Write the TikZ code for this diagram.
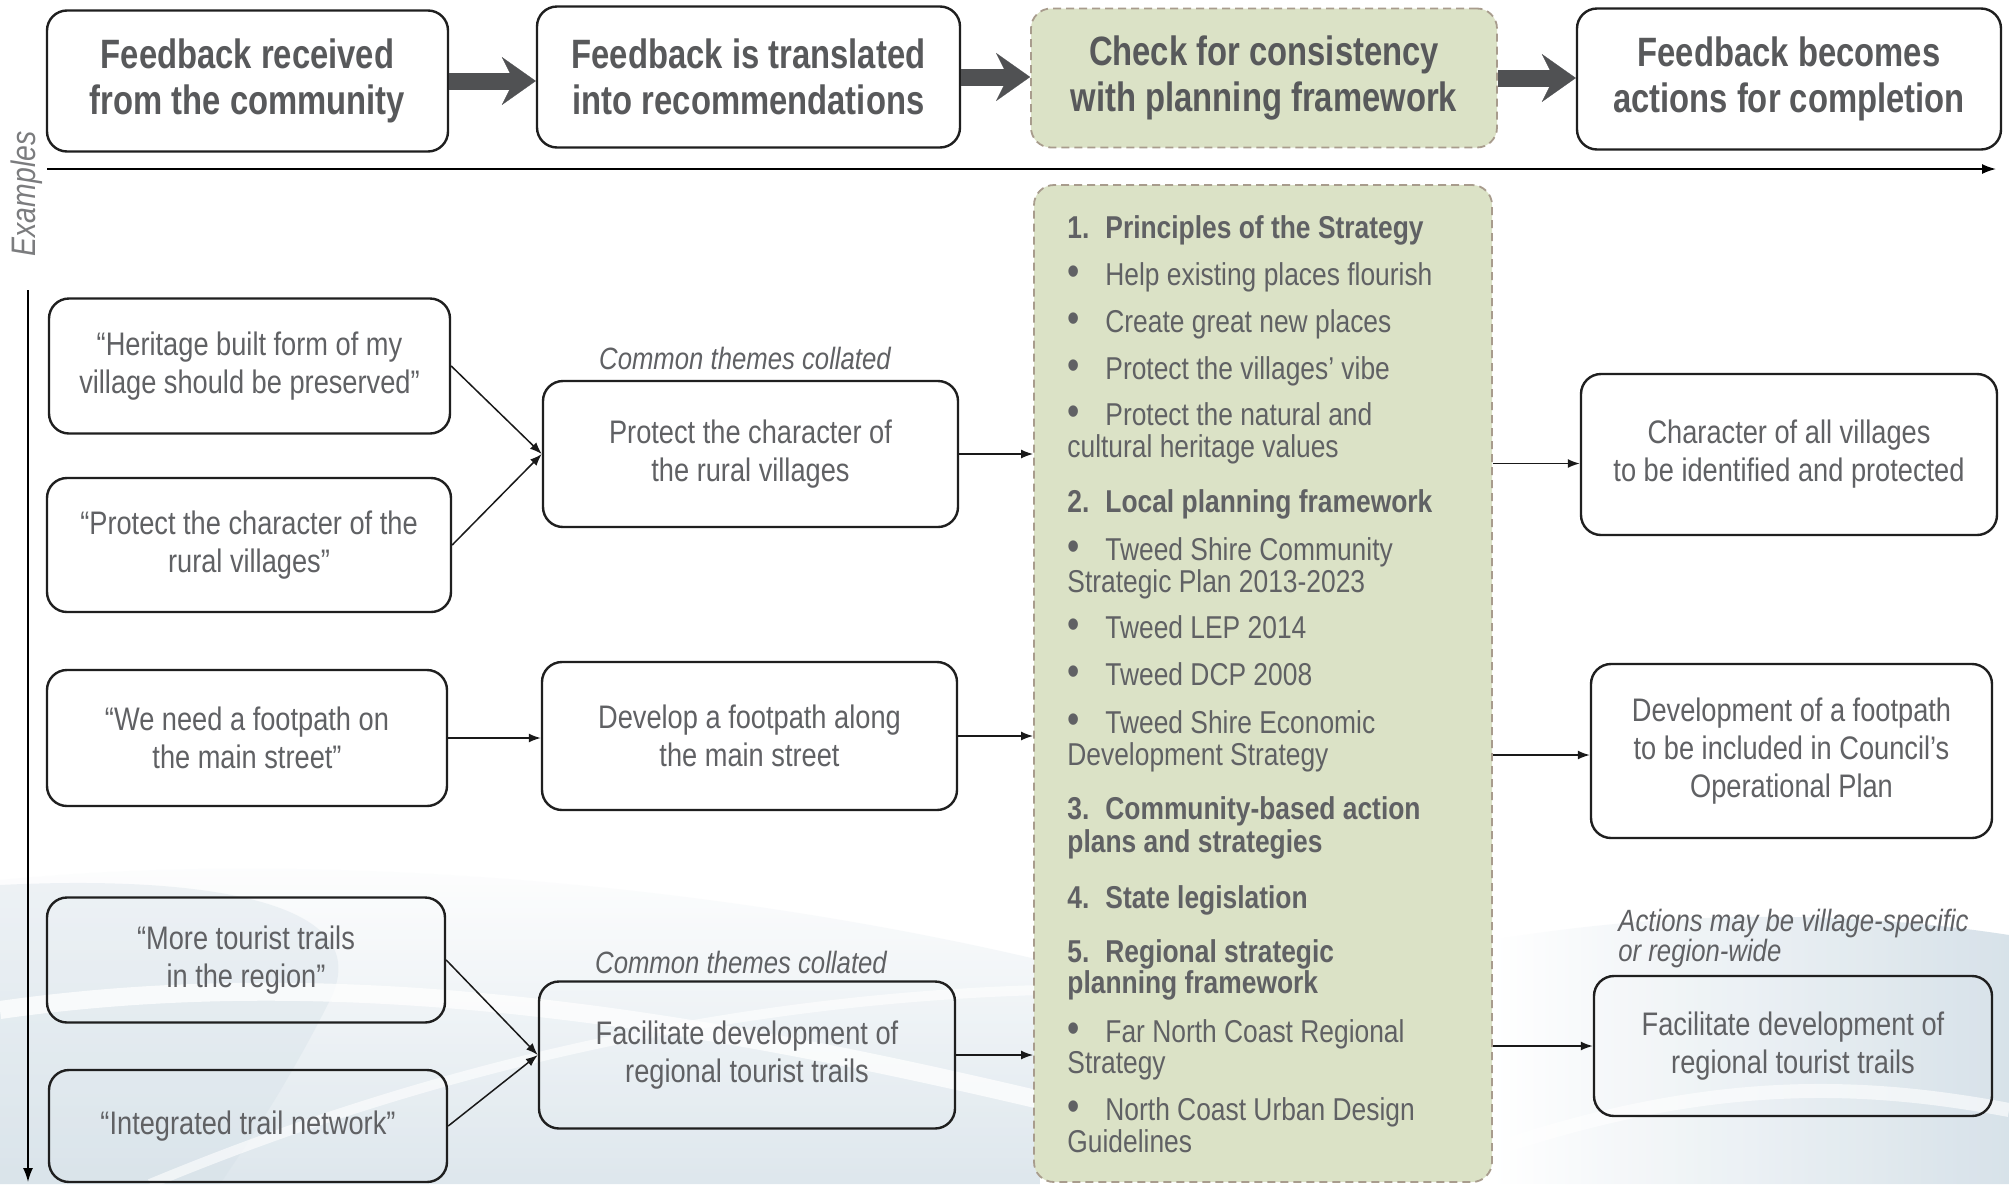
\documentclass[tikz,border=0pt]{standalone}
\usepackage{fontspec}
\setmainfont{Liberation Sans}[FakeStretch=0.835]
\newfontfamily\condttl{Liberation Sans}[FakeStretch=0.8]
\usetikzlibrary{arrows.meta}
\definecolor{txtc}{HTML}{606164}
\definecolor{ttlc}{HTML}{58595B}
\definecolor{gfill}{HTML}{DBE2C6}
\definecolor{gdash}{HTML}{A89C8D}
\definecolor{darr}{HTML}{505153}
\definecolor{bgblue}{HTML}{D3DFE7}
\definecolor{exc}{HTML}{7B7C7E}
\begin{document}
\begin{tikzpicture}[x=0.5pt,y=-0.5pt,
 box/.style={draw=black!88, line width=1.2pt, rounded corners=10pt, inner sep=0pt, align=center, text=txtc, font=\fontsize{16.3}{19}\selectfont},
 ttlbox/.style={box, text=ttlc, font=\condttl\fontsize{20.5}{23}\selectfont\bfseries},
 gbox/.style={draw=gdash, fill=gfill, dash pattern=on 4pt off 2.5pt, line width=0.9pt, rounded corners=10pt, inner sep=0pt, align=center},
 gt/.style={inner sep=0pt, text=txtc, font=\fontsize{15.8}{16}\selectfont, anchor=base west},
 gtb/.style={gt, font=\fontsize{15.8}{16}\selectfont\bfseries},
 gbul/.style={gt, font=\fontsize{21}{16}\selectfont},
 lbl/.style={inner sep=0pt, text=txtc, font=\fontsize{15.4}{15}\selectfont\itshape},
 bigarrow/.style={draw=darr, line width=8.5pt, -{Stealth[length=17pt,width=24pt,inset=6pt,line width=0.1pt]}},
 conn/.style={draw=black!90, line width=0.75pt, -{Latex[length=6pt,width=4.5pt]}},
 axis/.style={draw=black, line width=0.8pt, -{Latex[length=7pt,width=5pt]}}
]
\useasboundingbox (0,0) rectangle (2009,1184);
\fill[white] (0,0) rectangle (2009,1184);

% decorative background swooshes
\shade[top color=white, bottom color=bgblue, opacity=0.75] (0,880) .. controls (300,850) and (700,880) .. (1040,960) -- (1040,1184) -- (0,1184) -- cycle;
\fill[bgblue, opacity=0.35] (0,885) .. controls (200,875) and (380,900) .. (330,1000) .. controls (290,1080) and (250,1140) .. (220,1184) -- (0,1184) -- cycle;
\draw[white, line width=9pt, opacity=0.75] (0,1010) .. controls (350,960) and (700,1020) .. (1040,1100);
\draw[white, line width=5pt, opacity=0.6] (150,1184) .. controls (400,1080) and (700,1000) .. (1040,990);
\shade[left color=white, right color=bgblue, opacity=0.9] (1492,940) .. controls (1700,905) and (1880,915) .. (2009,935) -- (2009,1184) -- (1492,1184) -- cycle;
\draw[white, line width=7pt, opacity=0.6] (1492,1150) .. controls (1700,1080) and (1850,1080) .. (2009,1110);

% top row
\node[ttlbox, minimum width=200.5pt, minimum height=70.5pt] (A1) at (247.5,81) {Feedback received\\from the community};
\node[ttlbox, minimum width=211.5pt, minimum height=70.5pt] (A2) at (748.5,77) {Feedback is translated\\into recommendations};
\node[gbox, text=ttlc, font=\condttl\fontsize{20.5}{23}\selectfont\bfseries, minimum width=233pt, minimum height=69.5pt] (A3) at (1264,78) {Check for consistency\\with planning framework};
\node[ttlbox, minimum width=212pt, minimum height=70.5pt] (A4) at (1789,79) {Feedback becomes\\actions for completion};

\draw[bigarrow] (A1.east) -- (A1.east -| A2.west);
\draw[bigarrow] (A2.east) -- (A2.east -| A3.west);
\draw[bigarrow] (A3.east) -- (A3.east -| A4.west);

% axes
\coordinate (hx0) at (47,169);
\coordinate (hx1) at (1996,169);
\coordinate (vy0) at (28,290);
\coordinate (vy1) at (28,1182);
\draw[axis] (hx0) -- (hx1);
\draw[axis] (vy0) -- (vy1);
\node[rotate=90, inner sep=0pt, text=exc, font=\fontsize{17}{17}\selectfont\itshape] (ex) at (27,194) {Examples};

% green framework panel
\node[gbox, minimum width=229pt, minimum height=498.5pt] (G) at (1263,683.5) {};
\node[gtb] (g1n) at (1067,238) {1.};
\node[gtb] (g1) at (1105,238) {Principles of the Strategy};
\node[gbul] (g2b) at (1067,285) {•};
\node[gt] (g2) at (1105,285) {Help existing places flourish};
\node[gbul] (g3b) at (1067,332) {•};
\node[gt] (g3) at (1105,332) {Create great new places};
\node[gbul] (g4b) at (1067,379) {•};
\node[gt] (g4) at (1105,379) {Protect the villages’ vibe};
\node[gbul] (g5b) at (1067,425) {•};
\node[gt] (g5) at (1105,425) {Protect the natural and};
\node[gt] (g5c) at (1067,457) {cultural heritage values};
\node[gtb] (g6n) at (1067,512) {2.};
\node[gtb] (g6) at (1105,512) {Local planning framework};
\node[gbul] (g7b) at (1067,560) {•};
\node[gt] (g7) at (1105,560) {Tweed Shire Community};
\node[gt] (g7c) at (1067,592) {Strategic Plan 2013-2023};
\node[gbul] (g8b) at (1067,638) {•};
\node[gt] (g8) at (1105,638) {Tweed LEP 2014};
\node[gbul] (g9b) at (1067,685) {•};
\node[gt] (g9) at (1105,685) {Tweed DCP 2008};
\node[gbul] (g10b) at (1067,733) {•};
\node[gt] (g10) at (1105,733) {Tweed Shire Economic};
\node[gt] (g10c) at (1067,765) {Development Strategy};
\node[gtb] (g11n) at (1067,819) {3.};
\node[gtb] (g11) at (1105,819) {Community-based action};
\node[gtb] (g11c) at (1067,852) {plans and strategies};
\node[gtb] (g12n) at (1067,908) {4.};
\node[gtb] (g12) at (1105,908) {State legislation};
\node[gtb] (g13n) at (1067,962) {5.};
\node[gtb] (g13) at (1105,962) {Regional strategic};
\node[gtb] (g13c) at (1067,993) {planning framework};
\node[gbul] (g14b) at (1067,1042) {•};
\node[gt] (g14) at (1105,1042) {Far North Coast Regional};
\node[gt] (g14c) at (1067,1073) {Strategy};
\node[gbul] (g15b) at (1067,1120) {•};
\node[gt] (g15) at (1105,1120) {North Coast Urban Design};
\node[gt] (g15c) at (1067,1152) {Guidelines};

% community feedback boxes
\node[box, minimum width=200.5pt, minimum height=67.5pt] (B1) at (249.5,366) {“Heritage built form of my\\village should be preserved”};
\node[box, minimum width=202pt, minimum height=67pt] (B2) at (249,545) {“Protect the character of the\\rural villages”};
\node[box, minimum width=200pt, minimum height=68pt] (B3) at (247,738) {“We need a footpath on\\the main street”};
\node[box, minimum width=199pt, minimum height=62.5pt] (B4) at (246,960) {“More tourist trails\\in the region”};
\node[box, minimum width=199pt, minimum height=56pt] (B5) at (248,1126) {“Integrated trail network”};

% recommendations
\node[box, minimum width=207.5pt, minimum height=73pt] (C1) at (750.5,454) {Protect the character of\\the rural villages};
\node[box, minimum width=207.5pt, minimum height=74pt] (C2) at (749.5,736) {Develop a footpath along\\the main street};
\node[box, minimum width=208pt, minimum height=73.5pt] (C3) at (747,1055) {Facilitate development of\\regional tourist trails};
\node[lbl, anchor=base] (L1) at (745,369) {Common themes collated};
\node[lbl, anchor=base] (L2) at (741,973) {Common themes collated};

% actions
\node[box, minimum width=208pt, minimum height=80.5pt] (D1) at (1789,454.5) {Character of all villages\\to be identified and protected};
\node[box, minimum width=200.5pt, minimum height=87pt] (D2) at (1791.5,751) {Development of a footpath\\to be included in Council’s\\Operational Plan};
\node[box, minimum width=199pt, minimum height=70pt] (D3) at (1793,1046) {Facilitate development of\\regional tourist trails};
\node[lbl, anchor=base west, align=left] (L3) at (1618,931) {Actions may be village-specific};
\node[lbl, anchor=base west, align=left] (L4) at (1618,961) {or region-wide};

% connectors
\draw[conn] (B1.east) -- (C1.west);
\draw[conn] (B2.east) -- (C1.west);
\draw[conn] (B3.east) -- (B3.east -| C2.west);
\draw[conn] (B4.east) -- (C3.west);
\draw[conn] (B5.east) -- (C3.west);
\draw[conn] (C1.east) -- (C1.east -| G.west);
\draw[conn] (C2.east) -- (C2.east -| G.west);
\draw[conn] (C3.east) -- (C3.east -| G.west);
\draw[conn] ([yshift=-4.5pt]D1.west -| G.east) -- ([yshift=-4.5pt]D1.west);
\draw[conn] ([yshift=-2pt]D2.west -| G.east) -- ([yshift=-2pt]D2.west);
\draw[conn] (D3.west -| G.east) -- (D3.west);
\end{tikzpicture}
\end{document}
